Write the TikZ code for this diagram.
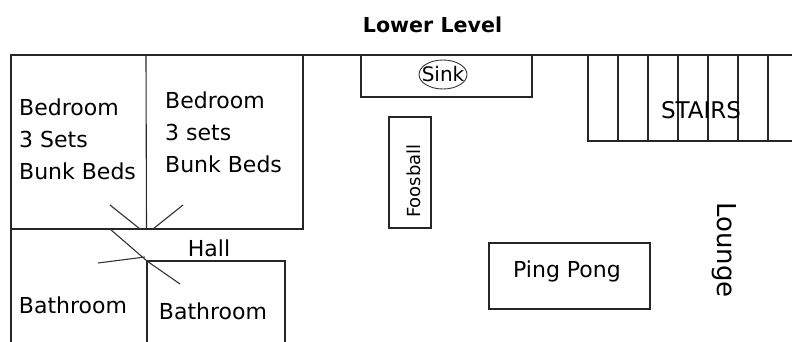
\documentclass[tikz,border=0pt]{standalone}
\usepackage{fontspec}
\setmainfont{DejaVu Sans}
\usepackage{xcolor}
\usepackage{tikz}
\usetikzlibrary{shapes,calc}
\tikzset{
  wall/.style={draw=black!85,line width=1.1pt},
  door/.style={draw=black!80,line width=1.1pt},
  roomlabel/.style={inner sep=0pt,font=\fontsize{22}{32}\selectfont},
  bunklabel/.style={roomlabel,align=left,anchor=north west},
}
\begin{document}
\begin{tikzpicture}[x=1pt,y=-1pt]
        \useasboundingbox (0,0) rectangle (792,342);
        \node (title) [inner sep=0pt,font=\bfseries\fontsize{20.6}{20.6}\selectfont] at (432.5,24.5) {Lower Level};
        % outer walls and bedrooms
        \draw [wall] (11,342) -- (11,55) -- (792,55);
        \draw [wall] (146,55) -- (146.5,229);
        \draw [wall] (303,55) -- (303,229) -- (11,229);
        \draw [wall] (147,342) -- (147,261) -- (285,261) -- (285,342);
        % doors
        \draw [door] (110,205) -- (140,229);
        \draw [door] (183,205) -- (153,229);
        \draw [door] (110,229) -- (147,261) -- (180,284);
        \draw [door] (98,263) -- (145,257);
        % sink counter
        \draw [wall] (361,55) -- (361,97) -- (532,97) -- (532,55);
        \node (sink) [draw=black!80,line width=.9pt,ellipse,inner sep=0pt,minimum width=48pt,minimum height=29pt] at (443,74.5) {};
        \node (sinklabel) [inner sep=0pt,font=\fontsize{20}{20}\selectfont] at (443,74) {Sink};
        % stairs
        \draw [wall] (792,141) -- (588,141) -- (588,55);
        \foreach \x in {618,648,678,708,738,768}
          \draw [wall] (\x,55) -- (\x,141);
        \node (stairs) [roomlabel,font=\fontsize{23}{23}\selectfont] at (701,110) {STAIRS};
        % tables
        \node (foosball) [wall,minimum width=42pt,minimum height=111pt,inner sep=0pt] at (410,172.5) {};
        \node (foosballlabel) [inner sep=0pt,rotate=90,font=\fontsize{18}{18}\selectfont] at (414,181) {Foosball};
        \node (pingpong) [wall,minimum width=161pt,minimum height=66pt,inner sep=0pt] at (569.5,276) {};
        \node (pingponglabel) [roomlabel] at (567,271) {Ping Pong};
        \node (lounge) [roomlabel,rotate=-90,font=\fontsize{26}{26}\selectfont] at (724,250) {Lounge};
        % rooms
        \node (bedrooma) [bunklabel] at (19,99) {Bedroom\\3 Sets\\Bunk Beds};
        \node (bedroomb) [bunklabel] at (165,92) {Bedroom\\3 sets\\Bunk Beds};
        \node (hall) [roomlabel] at (209,248) {Hall};
        \node (bathrooma) [roomlabel] at (73,305) {Bathroom};
        \node (bathroomb) [roomlabel] at (213,311) {Bathroom};
      \end{tikzpicture}
\end{document}
